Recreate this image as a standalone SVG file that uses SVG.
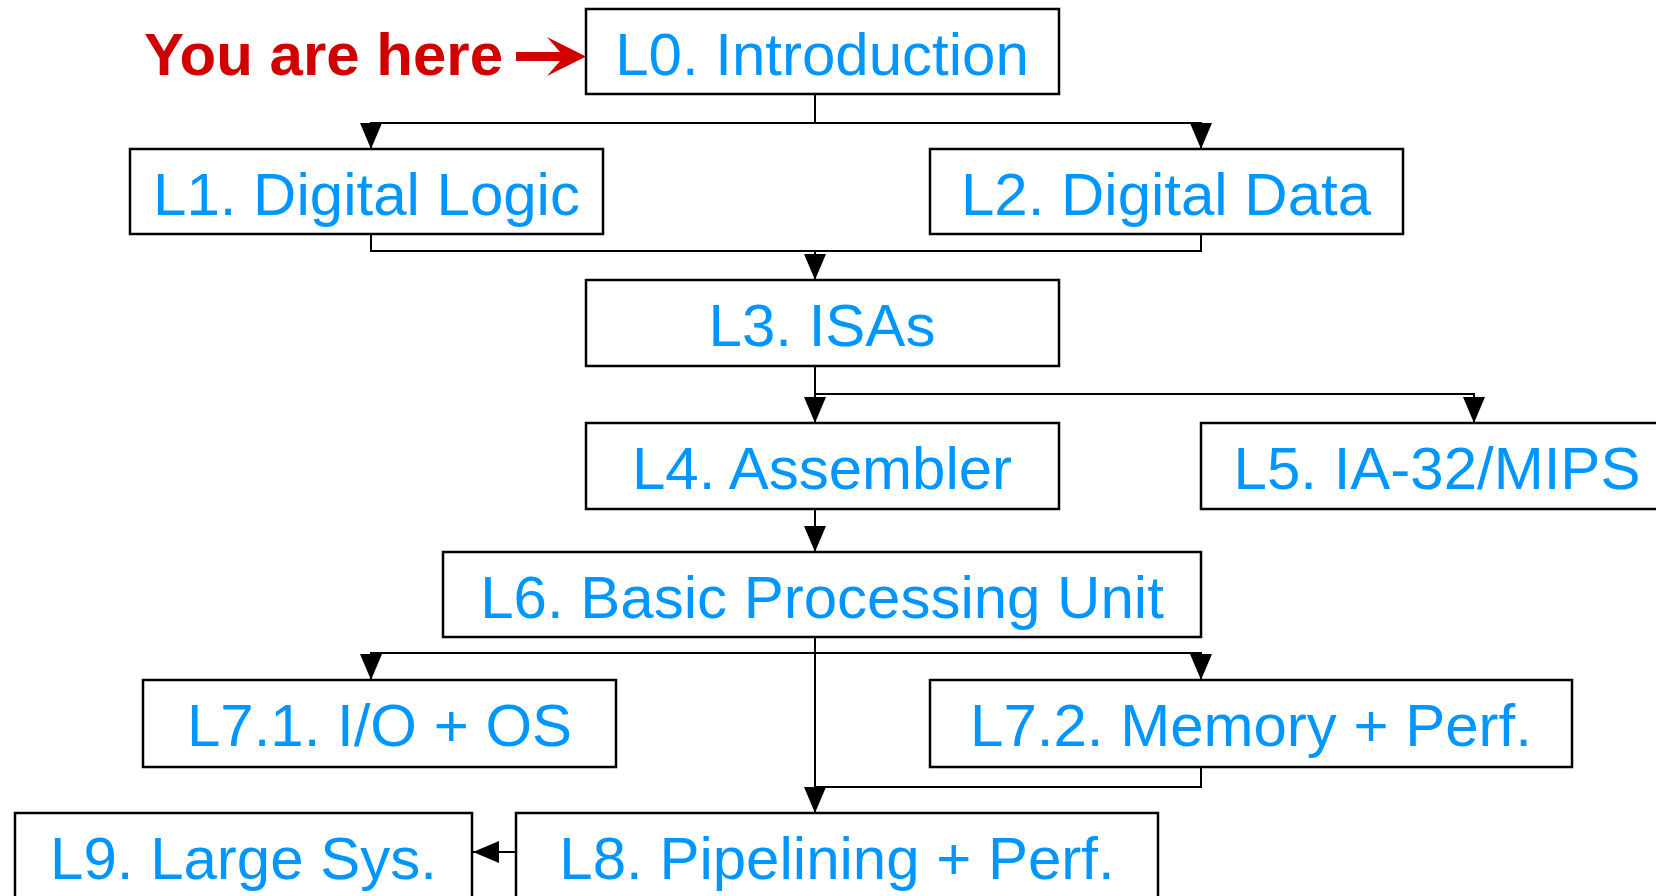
<svg xmlns="http://www.w3.org/2000/svg" width="1656" height="896" viewBox="0 0 1656 896">
  <defs>
    <style>
      .box { fill: #ffffff; stroke: #000000; stroke-width: 2.5; }
      .lbl { font-family: "Liberation Sans", Arial, sans-serif; font-size: 60px; fill: #0096FF; text-anchor: middle; }
      .conn { fill: none; stroke: #000000; stroke-width: 2; }
      .here { font-family: "Liberation Sans", Arial, sans-serif; font-size: 60px; font-weight: bold; fill: #D00000; }
    </style>
    <marker id="arr" markerUnits="userSpaceOnUse" markerWidth="26" markerHeight="22" refX="26" refY="11" orient="auto">
      <path d="M0,0 L26,11 L0,22 Z" fill="#000000"/>
    </marker>
  </defs>
  <rect width="1656" height="896" fill="#ffffff"/>

  <g id="connectors">
    <path class="conn" d="M815,94 V123 H371 V149" marker-end="url(#arr)"/>
    <path class="conn" d="M815,123 H1201 V149" marker-end="url(#arr)"/>
    <path class="conn" d="M371,234 V251 H1201 V234"/>
    <path class="conn" d="M815,251 V280" marker-end="url(#arr)"/>
    <path class="conn" d="M815,366 V423" marker-end="url(#arr)"/>
    <path class="conn" d="M815,394 H1474 V423" marker-end="url(#arr)"/>
    <path class="conn" d="M815,509 V552" marker-end="url(#arr)"/>
    <path class="conn" d="M815,637 V813" marker-end="url(#arr)"/>
    <path class="conn" d="M815,653 H371 V680" marker-end="url(#arr)"/>
    <path class="conn" d="M815,653 H1201 V680" marker-end="url(#arr)"/>
    <path class="conn" d="M1201,767 V787 H815"/>
    <path class="conn" d="M516,852 H473" marker-end="url(#arr)"/>
  </g>

  <g id="you-are-here">
    <text class="here" x="144" y="75">You are here</text>
    <path d="M516,52 L560,52 L547,37 L586,56.5 L547,76 L560,61 L516,61 Z" fill="#D00000"/>
  </g>

  <g id="L0">
    <rect class="box" x="586" y="9" width="473" height="85"/>
    <text class="lbl" x="822" y="75">L0. Introduction</text>
  </g>
  <g id="L1">
    <rect class="box" x="130" y="149" width="473" height="85"/>
    <text class="lbl" x="366.5" y="215">L1. Digital Logic</text>
  </g>
  <g id="L2">
    <rect class="box" x="930" y="149" width="473" height="85"/>
    <text class="lbl" x="1166" y="215">L2. Digital Data</text>
  </g>
  <g id="L3">
    <rect class="box" x="586" y="280" width="473" height="86"/>
    <text class="lbl" x="822" y="346">L3. ISAs</text>
  </g>
  <g id="L4">
    <rect class="box" x="586" y="423" width="473" height="86"/>
    <text class="lbl" x="822" y="489">L4. Assembler</text>
  </g>
  <g id="L5">
    <rect class="box" x="1201" y="423" width="473" height="86"/>
    <text class="lbl" x="1437" y="489">L5. IA-32/MIPS</text>
  </g>
  <g id="L6">
    <rect class="box" x="443" y="552" width="758" height="85"/>
    <text class="lbl" x="822" y="618">L6. Basic Processing Unit</text>
  </g>
  <g id="L7-1">
    <rect class="box" x="143" y="680" width="473" height="87"/>
    <text class="lbl" x="379.5" y="746">L7.1. I/O + OS</text>
  </g>
  <g id="L7-2">
    <rect class="box" x="930" y="680" width="642" height="87"/>
    <text class="lbl" x="1251" y="746">L7.2. Memory + Perf.</text>
  </g>
  <g id="L8">
    <rect class="box" x="516" y="813" width="642" height="86"/>
    <text class="lbl" x="837" y="879">L8. Pipelining + Perf.</text>
  </g>
  <g id="L9">
    <rect class="box" x="15" y="813" width="457" height="86"/>
    <text class="lbl" x="243.5" y="879">L9. Large Sys.</text>
  </g>
</svg>
